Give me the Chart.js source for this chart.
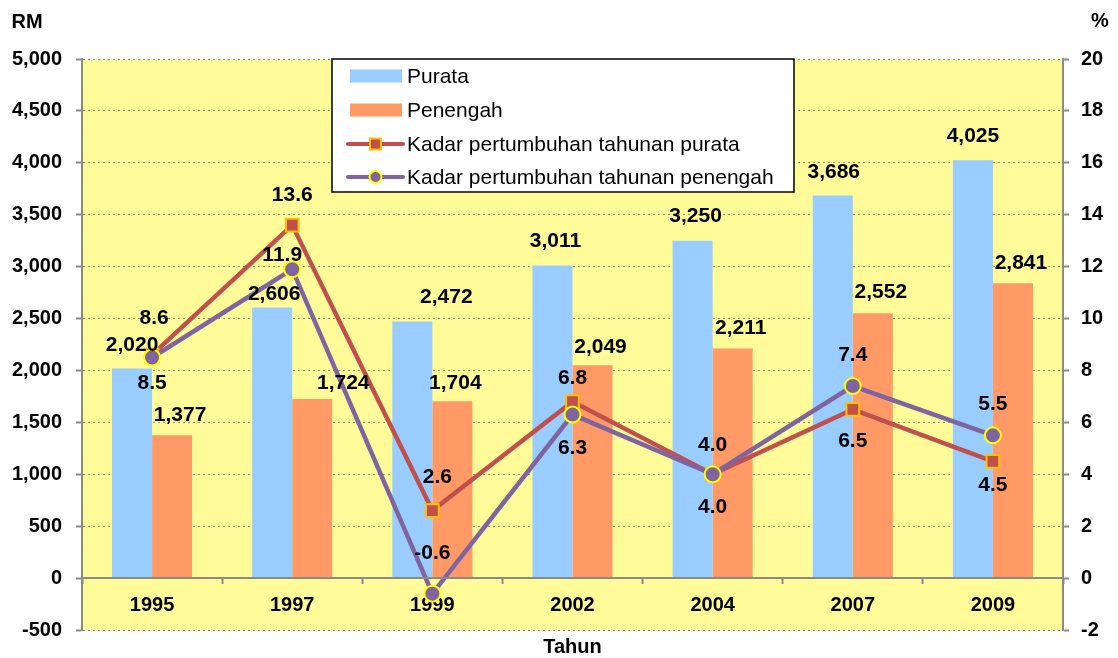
<!DOCTYPE html>
<html><head><meta charset="utf-8">
<script src="https://cdn.jsdelivr.net/npm/chart.js@4/dist/chart.umd.min.js"></script>
<style>html,body{margin:0;padding:0;background:#fff;}canvas{display:block;}</style>
</head><body>
<canvas id="c" width="1118" height="658"></canvas>
<script>
// ---- data ----
const years = ['1995', '1997', '1999', '2002', '2004', '2007', '2009'];
const purata = [2020, 2606, 2472, 3011, 3250, 3686, 4025];
const penengah = [1377, 1724, 1704, 2049, 2211, 2552, 2841];
const growthPurata = [8.6, 13.6, 2.6, 6.8, 4.0, 6.5, 4.5];
const growthPenengah = [8.5, 11.9, -0.6, 6.3, 4.0, 7.4, 5.5];
const seriesNames = ['Purata', 'Penengah', 'Kadar pertumbuhan tahunan purata', 'Kadar pertumbuhan tahunan penengah'];
const leftUnit = 'RM';
const rightUnit = '%';
const xTitle = 'Tahun';

const FONT = '"Liberation Sans", Arial, sans-serif';
const GRAY = '#8a8a8a';
const C = {
  blue: '#99CCFF', orange: '#FF9966', red: '#C0504D', redEdge: '#FFC000',
  purple: '#8064A2', purpleEdge: '#FFFF00', bg: '#FFFB99'
};

const labelPlugin = {
  id: 'labels',
  afterDatasetsDraw(chart, args, opts) {
    const ctx = chart.ctx;
    ctx.save();
    ctx.font = 'bold 21px ' + FONT;
    ctx.fillStyle = '#000';
    ctx.textAlign = 'center';
    ctx.textBaseline = 'middle';
    chart.data.datasets.forEach((ds, di) => {
      const meta = chart.getDatasetMeta(di);
      const o = opts.offsets[di];
      meta.data.forEach((el, i) => {
        const v = ds.data[i];
        const txt = ds.type === 'line' ? v.toFixed(1) : v.toLocaleString('en-US');
        ctx.fillText(txt, el.x + o.dx[i], el.y + o.dy[i]);
      });
    });
    ctx.restore();
  }
};

const decorPlugin = {
  id: 'decor',
  beforeDraw(chart) {
    const {ctx, chartArea: a} = chart;
    ctx.save();
    ctx.fillStyle = C.bg;
    ctx.fillRect(a.left, a.top, a.right - a.left, a.bottom - a.top);
    ctx.restore();
  },
  afterDraw(chart) {
    const {ctx, chartArea: a} = chart;
    ctx.save();
    ctx.fillStyle = '#000';
    ctx.font = 'bold 20px ' + FONT;
    ctx.textBaseline = 'middle';
    ctx.textAlign = 'center';
    ctx.fillText(leftUnit, 27, 22);
    ctx.fillText(rightUnit, 1100, 21);
    ctx.fillText(xTitle, (a.left + a.right) / 2, 647);

    // legend
    const lx = a.left + 250, ly = a.top, lw = 462, lh = 133;
    ctx.fillStyle = '#fff';
    ctx.fillRect(lx, ly, lw, lh);
    ctx.strokeStyle = '#000';
    ctx.lineWidth = 1.5;
    ctx.strokeRect(lx, ly, lw, lh);
    const rows = [17, 51, 85, 118];
    const ds = chart.data.datasets;
    const order = [2, 3, 1, 0];
    ctx.font = '21px ' + FONT;
    ctx.textAlign = 'left';
    order.forEach((di, r) => {
      const d = ds[di];
      const cy = ly + rows[r];
      const sx = lx + 16;
      if (d.type === 'bar') {
        ctx.fillStyle = d.backgroundColor;
        ctx.fillRect(sx + 2, cy - 6.5, 52, 13);
      } else {
        ctx.strokeStyle = d.borderColor;
        ctx.lineWidth = 4;
        ctx.lineCap = 'round';
        ctx.beginPath();
        ctx.moveTo(sx, cy); ctx.lineTo(sx + 55, cy); ctx.stroke();
        const mx = sx + 27.5;
        ctx.fillStyle = d.pointBackgroundColor;
        ctx.strokeStyle = d.pointBorderColor;
        ctx.lineWidth = 2;
        ctx.beginPath();
        if (d.pointStyle === 'rect') ctx.rect(mx - 5.5, cy - 5.5, 11, 11);
        else ctx.arc(mx, cy, 6, 0, Math.PI * 2);
        ctx.fill(); ctx.stroke();
      }
      ctx.fillStyle = '#000';
      ctx.fillText(d.label, lx + 75, cy + 1);
    });
    ctx.restore();
  }
};

new Chart(document.getElementById('c'), {
  data: {
    labels: years,
    datasets: [
      { type: 'line', label: seriesNames[3], data: growthPenengah, yAxisID: 'y1', order: 0,
        borderColor: C.purple, borderWidth: 4.5, tension: 0,
        pointStyle: 'circle', pointRadius: 8, pointBorderWidth: 2,
        pointBackgroundColor: C.purple, pointBorderColor: C.purpleEdge },
      { type: 'line', label: seriesNames[2], data: growthPurata, yAxisID: 'y1', order: 1,
        borderColor: C.red, borderWidth: 4.5, tension: 0,
        pointStyle: 'rect', pointRadius: 9, pointBorderWidth: 2,
        pointBackgroundColor: C.red, pointBorderColor: C.redEdge },
      { type: 'bar', label: seriesNames[0], data: purata, yAxisID: 'y', order: 2,
        backgroundColor: C.blue, categoryPercentage: 80 / 140, barPercentage: 1 },
      { type: 'bar', label: seriesNames[1], data: penengah, yAxisID: 'y', order: 3,
        backgroundColor: C.orange, categoryPercentage: 80 / 140, barPercentage: 1 }
    ]
  },
  options: {
    responsive: false,
    animation: false,
    devicePixelRatio: 1,
    locale: 'en-US',
    layout: { padding: { top: 59, bottom: 28, left: 0, right: 0 } },
    plugins: {
      legend: { display: false },
      tooltip: { enabled: false },
      labels: {
        offsets: [
          { dx: [0, -10, 0, 0, 0, 0, 0], dy: [26, -14, -40, 34, 33, -31, -31] },
          { dx: [2, 0, 5, 0, 0, 0, 0], dy: [-37, -30, -33, -23, -29, 32, 24] },
          { dx: [0, 2, 34, 3, 3, 1, 0], dy: [-23, -13, -24, -24, -24, -23, -24] },
          { dx: [8, 31, 3, 8, 8, 8, 8], dy: [-20, -16, -18, -18, -20, -21, -20] }
        ]
      }
    },
    scales: {
      x: {
        type: 'category',
        position: { y: 0 },
        offset: true,
        afterFit: s => { s.height = 0; },
        grid: { display: true, drawOnChartArea: false, drawTicks: true, offset: true,
                tickLength: 5, tickColor: GRAY, tickWidth: 2 },
        border: { display: true, color: GRAY, width: 2, z: 1 },
        ticks: { color: '#000', font: { family: FONT, size: 20, weight: 'bold' }, padding: 10 }
      },
      y: {
        position: 'left',
        min: -500, max: 5000,
        afterFit: s => { s.width = 82; },
        ticks: { stepSize: 500, color: '#000', font: { family: FONT, size: 20, weight: 'bold' }, padding: 14 },
        grid: { color: GRAY, lineWidth: 1, tickLength: 6, tickColor: GRAY, tickWidth: 2, drawTicks: true },
        border: { display: true, color: GRAY, width: 2, dash: [2, 3] }
      },
      y1: {
        position: 'right',
        min: -2, max: 20,
        afterFit: s => { s.width = 55; },
        ticks: { stepSize: 2, color: '#000', font: { family: FONT, size: 20, weight: 'bold' }, padding: 12 },
        grid: { drawOnChartArea: false, tickLength: 6, tickColor: GRAY, tickWidth: 2, drawTicks: true },
        border: { display: true, color: GRAY, width: 2 }
      }
    }
  },
  plugins: [decorPlugin, labelPlugin]
});
</script>
</body></html>
